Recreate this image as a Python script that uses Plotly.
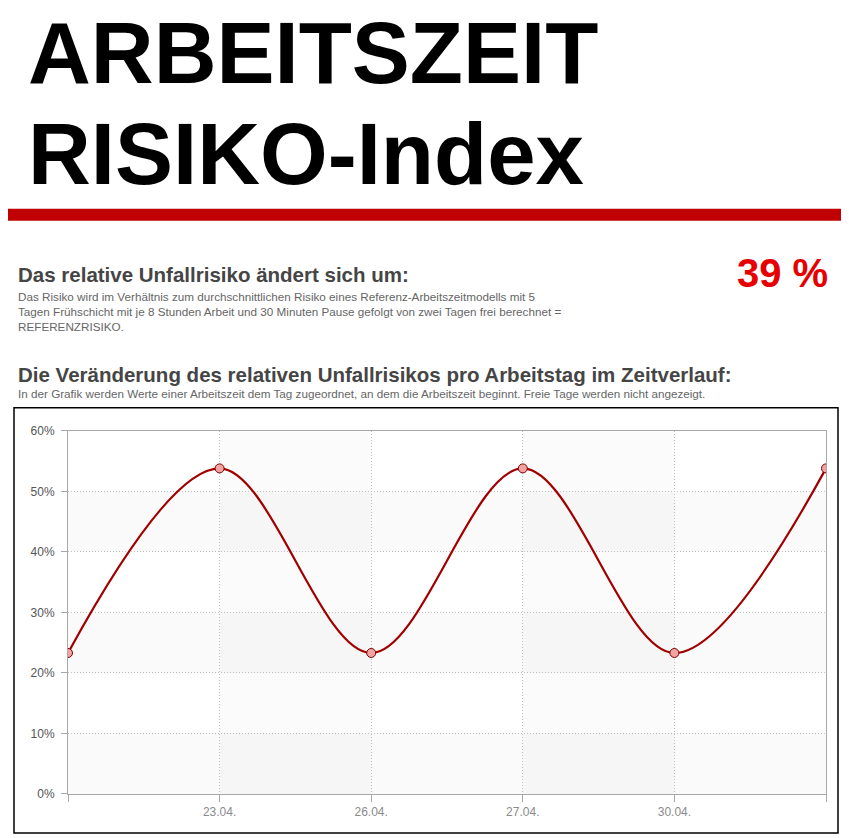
import plotly.graph_objects as go

W, H = 849, 838
FW, FH = W - 16, H
OFF_X = 8
# vertical placement of the figure in the photographed page (measured)
K_Y, OFF_Y = 0.983, 14.5

# data
tick_labels = ["", "23.04.", "26.04.", "27.04.", "30.04.", ""]
risk = [23.3, 53.8, 23.3, 53.8, 23.3, 53.8]
y_ticks = [0, 10, 20, 30, 40, 50, 60]
y_tick_labels = ["0%", "10%", "20%", "30%", "40%", "50%", "60%"]
index_value = "39 %"

positions = list(range(len(risk)))


def px(x):
    return (x - OFF_X) / FW


def py(y):
    return 1 - (y / K_Y - OFF_Y) / FH


fig = go.Figure()

fig.add_trace(go.Scatter(
    x=positions, y=risk,
    mode="lines+markers",
    line=dict(color="#a00000", width=2.2, shape="spline", smoothing=1),
    marker=dict(size=9, color="#f4a3a3", line=dict(color="#7a0000", width=1)),
    hoverinfo="y",
    showlegend=False,
))

# alternating background bands
for y0 in (0, 20, 40):
    fig.add_shape(type="rect", xref="x", yref="y", x0=0, x1=5, y0=y0, y1=y0 + 10,
                  fillcolor="#fafafa", line_width=0, layer="below")
for x0 in (1, 3):
    fig.add_shape(type="rect", xref="x", yref="y", x0=x0, x1=x0 + 1, y0=0, y1=60,
                  fillcolor="rgba(0,0,0,0.016)", line_width=0, layer="below")

# red bar under the header
fig.add_shape(type="rect", xref="paper", yref="paper",
              x0=px(8), x1=px(843), y0=py(208), y1=py(220),
              fillcolor="#c00000", line_width=0)
# frame round the chart
fig.add_shape(type="rect", xref="paper", yref="paper",
              x0=px(14), x1=px(838), y0=py(407), y1=py(832),
              line=dict(color="black", width=1.5))

big = dict(family="Liberation Sans, Arial", size=87, color="black")
fig.add_annotation(text="<b>ARBEITSZEIT</b>", x=px(26), y=py(52), xref="paper", yref="paper",
                   xanchor="left", yanchor="middle", showarrow=False, font=big)
fig.add_annotation(text="<b>RISIKO-Index</b>", x=px(26), y=py(153), xref="paper", yref="paper",
                   xanchor="left", yanchor="middle", showarrow=False, font=big)

head = dict(family="Liberation Sans, Arial", size=20.5, color="#454545")
small = dict(family="Liberation Sans, Arial", size=11.7, color="#666666")

fig.add_annotation(text="<b>Das relative Unfallrisiko ändert sich um:</b>", x=px(16), y=py(274),
                   xref="paper", yref="paper", xanchor="left", yanchor="middle",
                   showarrow=False, font=head)
fig.add_annotation(
    text="Das Risiko wird im Verhältnis zum durchschnittlichen Risiko eines Referenz-Arbeitszeitmodells mit 5<br>"
         "Tagen Frühschicht mit je 8 Stunden Arbeit und 30 Minuten Pause gefolgt von zwei Tagen frei berechnet =<br>"
         "REFERENZRISIKO.",
    x=px(16), y=py(287), xref="paper", yref="paper", xanchor="left", yanchor="top",
    align="left", showarrow=False, font=small)
fig.add_annotation(text="<b>" + index_value + "</b>", x=px(830), y=py(272), xref="paper", yref="paper",
                   xanchor="right", yanchor="middle", showarrow=False,
                   font=dict(family="Liberation Sans, Arial", size=40, color="#e60000"))

fig.add_annotation(text="<b>Die Veränderung des relativen Unfallrisikos pro Arbeitstag im Zeitverlauf:</b>",
                   x=px(16), y=py(374), xref="paper", yref="paper", xanchor="left", yanchor="middle",
                   showarrow=False, font=head)
fig.add_annotation(
    text="In der Grafik werden Werte einer Arbeitszeit dem Tag zugeordnet, an dem die Arbeitszeit beginnt. "
         "Freie Tage werden nicht angezeigt.",
    x=px(16), y=py(393), xref="paper", yref="paper", xanchor="left", yanchor="middle",
    showarrow=False, font=small)

fig.update_layout(
    width=FW, height=FH,
    margin=dict(l=0, r=0, t=0, b=0),
    paper_bgcolor="white", plot_bgcolor="white",
    font=dict(family="Liberation Sans, Arial"),
    xaxis=dict(
        domain=[px(68), px(826)], range=[0, 5],
        tickvals=positions, ticktext=tick_labels,
        showgrid=True, gridcolor="#c0c0c0", griddash="1px,2px", gridwidth=1,
        showline=True, linecolor="#a8a8a8", linewidth=1, mirror=True,
        ticks="outside", ticklen=7, tickcolor="#a8a8a8",
        tickfont=dict(size=12, color="#8a8a8a"), zeroline=False,
    ),
    yaxis=dict(
        domain=[py(793), py(430)], range=[0, 60],
        tickvals=y_ticks, ticktext=y_tick_labels,
        showgrid=True, gridcolor="#c0c0c0", griddash="1px,2px", gridwidth=1,
        showline=True, linecolor="#a8a8a8", linewidth=1, mirror=True,
        ticks="outside", ticklen=6, tickcolor="#a8a8a8", ticklabelstandoff=4,
        tickfont=dict(size=12, color="#555555"), zeroline=False,
    ),
)

fig.write_html("out.html")
